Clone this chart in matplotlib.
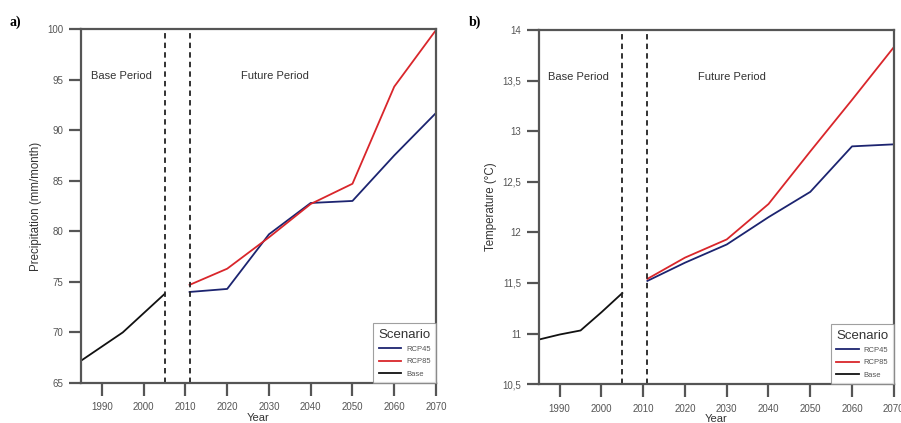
import numpy as np
import matplotlib.pyplot as plt

plt.rcParams['font.family'] = ['Liberation Sans', 'DejaVu Sans']
plt.rcParams['font.size'] = 7

# years
base_years = [1985, 1990, 1995, 2000, 2005]
future_years = [2011, 2020, 2030, 2040, 2050, 2060, 2070]
xticks = [1990, 2000, 2010, 2020, 2030, 2040, 2050, 2060, 2070]

# precipitation (mm/month)
prec_base = [67.2, 68.6, 70.0, 71.9, 73.8]
prec_rcp45 = [74.0, 74.3, 79.7, 82.8, 83.0, 87.5, 91.7]
prec_rcp85 = [74.7, 76.3, 79.4, 82.7, 84.7, 94.3, 99.9]

# temperature (C)
temp_base = [10.94, 10.99, 11.03, 11.21, 11.40]
temp_rcp45 = [11.52, 11.70, 11.88, 12.15, 12.40, 12.85, 12.87]
temp_rcp85 = [11.54, 11.75, 11.93, 12.28, 12.80, 13.31, 13.83]

c45 = '#1c2470'
c85 = '#d9262b'
spine_c = '#555555'
txt_c = '#555555'

fig = plt.figure(figsize=(9.01, 4.23), dpi=100)
ax1 = fig.add_axes([0.0899, 0.0946, 0.394, 0.8368])
ax2 = fig.add_axes([0.598, 0.092, 0.394, 0.837])


def style(ax, ylim, yticks, ylabels, ylabel):
    ax.set_xlim(1985, 2070)
    ax.set_ylim(*ylim)
    ax.set_xticks(xticks)
    ax.set_yticks(yticks)
    ax.set_yticklabels(ylabels)
    ax.tick_params(direction='out', length=9, width=1.6, color=spine_c,
                   labelcolor=txt_c, labelsize=7)
    ax.tick_params(axis='x', pad=5)
    ax.tick_params(axis='y', pad=3.5)
    for s in ax.spines.values():
        s.set_color(spine_c)
        s.set_linewidth(1.6)
    # base / future split
    ax.axvline(2005, color='#222222', linestyle='--', linewidth=1.3, dashes=(3, 2.3))
    ax.axvline(2011, color='#222222', linestyle='--', linewidth=1.3, dashes=(3, 2.3))
    ax.text(0.113, 0.867, 'Base Period', transform=ax.transAxes, ha='center',
            va='center', fontsize=8, color='#333333')
    ax.text(0.545, 0.867, 'Future Period', transform=ax.transAxes, ha='center',
            va='center', fontsize=8, color='#333333')
    ax.set_xlabel('Year', fontsize=8, color='#333333', labelpad=0.5)
    ax.set_ylabel(ylabel, fontsize=8.3, color='#333333', labelpad=4)
    leg = ax.legend(loc='lower right', title='Scenario', fontsize=5.5,
                    title_fontsize=9.5, frameon=True, fancybox=False,
                    borderaxespad=0, handlelength=3.0, handletextpad=0.6,
                    labelspacing=0.65, borderpad=0.7)
    leg.get_frame().set_edgecolor('#888888')
    leg.get_frame().set_linewidth(0.8)
    leg.get_title().set_color('#333333')
    for t in leg.get_texts():
        t.set_color(txt_c)


ax1.plot(future_years, prec_rcp45, color=c45, lw=1.3, label='RCP45')
ax1.plot(future_years, prec_rcp85, color=c85, lw=1.3, label='RCP85')
ax1.plot(base_years, prec_base, color='#111111', lw=1.3, label='Base')
style(ax1, (65, 100), [65, 70, 75, 80, 85, 90, 95, 100],
      ['65', '70', '75', '80', '85', '90', '95', '100'],
      'Precipitation (mm/month)')

ax2.plot(future_years, temp_rcp45, color=c45, lw=1.3, label='RCP45')
ax2.plot(future_years, temp_rcp85, color=c85, lw=1.3, label='RCP85')
ax2.plot(base_years, temp_base, color='#111111', lw=1.3, label='Base')
style(ax2, (10.5, 14), [10.5, 11, 11.5, 12, 12.5, 13, 13.5, 14],
      ['10,5', '11', '11,5', '12', '12,5', '13', '13,5', '14'],
      'Temperature (°C)')

fig.text(0.011, 0.947, 'a)', family=['Liberation Serif', 'DejaVu Serif'],
         fontweight='bold', fontsize=10, va='center')
fig.text(0.52, 0.947, 'b)', family=['Liberation Serif', 'DejaVu Serif'],
         fontweight='bold', fontsize=10, va='center')

fig.savefig('out.png', dpi=100)
